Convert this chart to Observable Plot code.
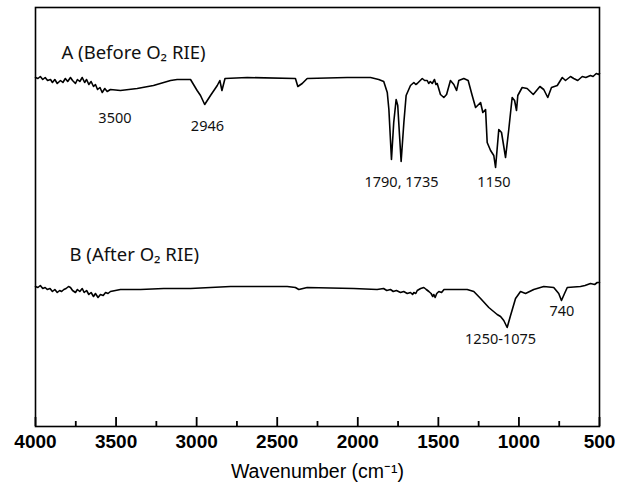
<!DOCTYPE html>
<html>
<head>
<meta charset="utf-8">
<script src="https://cdn.jsdelivr.net/npm/d3@7"></script>
<script src="https://cdn.jsdelivr.net/npm/@observablehq/plot@0.6"></script>
<style>
  html, body { margin: 0; padding: 0; background: #fff; }
</style>
</head>
<body>
<div id="chart"></div>
<script>
// Spectrum A (before O2 RIE): [wavenumber cm-1, transmittance a.u.]
const spectrumA = [
  [4000,349],[3985,348],[3970,350],[3955,347],[3940,349],[3925,346],[3907,347],[3895,344],[3880,347],[3865,343],
  [3845,346],[3830,344],[3815,348],[3800,345],[3783,349],[3770,346],[3752,343],[3740,347],[3725,345],[3710,349],
  [3695,344],[3683,347],[3669,342],[3655,345],[3640,340],[3628,342],[3615,337],[3600,339],[3586,334],[3570,338],
  [3555,335],[3535,337],[3473,336],[3369,338],[3268,341],[3162,346],[3121,347],[3038,347],[2997,336],[2976,331],
  [2950,322],[2914,331],[2872,341],[2856,346],[2843,336],[2824,348],[2686,349],[2387,348],[2372,340],[2345,343],
  [2314,348],[2066,349],[1921,349],[1870,347],[1839,345],[1817,334],[1807,317],[1791,267],[1777,304],[1762,327],
  [1752,321],[1741,291],[1731,265],[1714,304],[1700,331],[1673,341],[1652,344],[1640,342],[1631,343],[1600,348],
  [1585,346],[1569,346],[1560,343],[1550,345],[1538,343],[1524,347],[1515,342],[1507,343],[1487,332],[1466,329],
  [1449,332],[1425,346],[1404,342],[1387,336],[1373,346],[1342,348],[1315,346],[1290,331],[1269,319],[1238,324],
  [1224,314],[1207,317],[1197,284],[1176,276],[1156,271],[1145,259],[1125,297],[1108,294],[1083,269],[1063,297],
  [1042,329],[1027,326],[1015,316],[1007,331],[980,339],[949,338],[911,332],[870,340],[846,337],[821,329],
  [798,339],[762,341],[731,349],[711,346],[680,350],[660,348],[635,346],[607,350],[585,349],[556,351],
  [540,350],[520,353],[504,352],[500,353]
];

// Spectrum B (after O2 RIE)
const spectrumB = [
  [4000,140],[3985,139],[3970,141],[3955,138],[3940,139],[3927,137],[3910,138],[3895,135],[3880,137],[3865,134],
  [3850,136],[3838,135],[3824,137],[3810,138],[3795,140],[3783,139],[3770,136],[3752,134],[3740,137],[3725,135],
  [3710,138],[3698,134],[3683,136],[3669,132],[3655,134],[3640,130],[3628,133],[3612,129],[3597,132],[3580,131],
  [3565,134],[3550,133],[3535,135],[3473,137],[3348,137],[3204,138],[3038,138],[2790,140],[2438,140],[2387,139],
  [2366,137],[2314,139],[2025,138],[1880,137],[1840,138],[1820,136],[1797,137],[1780,135],[1760,136],[1735,134],
  [1715,135],[1693,133],[1673,134],[1660,132],[1652,134],[1640,133],[1631,136],[1610,138],[1590,139],[1575,137],
  [1559,135],[1545,133],[1535,130],[1528,132],[1520,129],[1510,133],[1497,135],[1480,134],[1465,137],[1445,137],
  [1321,137],[1280,135],[1238,128],[1187,119],[1135,112],[1114,110],[1094,106],[1073,99],[1052,111],[1021,128],
  [990,135],[959,133],[908,137],[846,140],[784,139],[753,133],[736,126],[717,133],[700,139],[618,140],
  [590,141],[556,143],[530,142],[514,144],[500,144]
];

// Annotations
const annoText = ["3500", "2946", "1790, 1735", "1150", "740", "1250-1075"];
const annoX = [3507, 2933, 1729, 1155, 733, 1114];
const annoY = [308, 300, 244, 244, 115, 87];

const titleText = ["A (Before O\u2082 RIE)", "B (After O\u2082 RIE)"];
const titleX = [3839, 3789];
const titleY = [373, 171];

// Axis ticks
const majorTicks = [4000, 3500, 3000, 2500, 2000, 1500, 1000, 500];
const minorTicks = [3750, 3250, 2750, 2250, 1750, 1250, 750];
const xLabel = "Wavenumber (cm\u207B\u00B9)";

const series = [
  ...spectrumA.map(([w, t]) => ({w, t, s: "A"})),
  ...spectrumB.map(([w, t]) => ({w, t, s: "B"}))
];
const annos = annoText.map((text, i) => ({text, x: annoX[i], y: annoY[i]}));
const titles = titleText.map((text, i) => ({text, x: titleX[i], y: titleY[i]}));

const yMin = 0;
const majorLen = 9;
const minorLen = 5;

const chart = Plot.plot({
  width: 617,
  height: 494,
  marginLeft: 35,
  marginRight: 18,
  marginTop: 7,
  marginBottom: 68,
  x: {domain: [4000, 500], axis: null},
  y: {domain: [yMin, 419], axis: null},
  style: {background: "#fff"},
  marks: [
    Plot.line(series, {x: "w", y: "t", z: "s", stroke: "#000", strokeWidth: 1.6, strokeLinejoin: "round"}),
    Plot.text(annos, {x: "x", y: "y", text: "text", fontSize: 14.5, fontFamily: "Noto Sans, Open Sans, sans-serif", fill: "#111"}),
    Plot.text(titles, {x: "x", y: "y", text: "text", textAnchor: "start", fontSize: 18.5, fontFamily: "Noto Sans, Open Sans, sans-serif", fill: "#111"}),
    Plot.axisX({ticks: majorTicks, tickSize: 0, tickPadding: 8, tickFormat: d => String(d), fontSize: 19, fontWeight: "bold", fontFamily: "Liberation Sans, Arial, sans-serif", label: null, color: "#000"}),
    Plot.text([xLabel], {frameAnchor: "bottom", dy: 51, fontSize: 19.5, fontFamily: "Liberation Sans, Arial, sans-serif", fill: "#000"}),
    Plot.frame({stroke: "#000", strokeWidth: 1.6}),
    Plot.ruleX(majorTicks, {x: d => d, y1: yMin, y2: yMin + majorLen, stroke: "#000", strokeWidth: 1.8}),
    Plot.ruleX(minorTicks, {x: d => d, y1: yMin, y2: yMin + minorLen, stroke: "#000", strokeWidth: 1.8})
  ]
});
document.getElementById("chart").appendChild(chart);
</script>
</body>
</html>
